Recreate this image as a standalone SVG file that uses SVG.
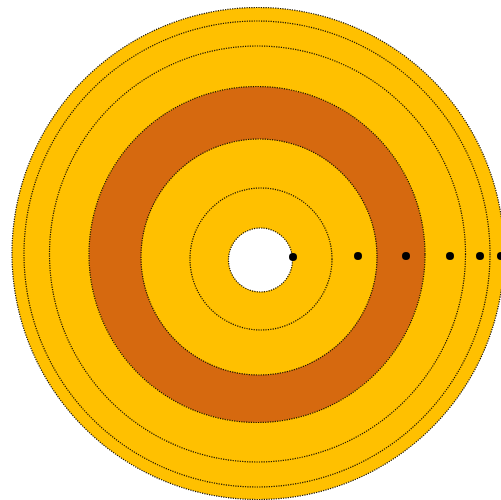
<svg xmlns="http://www.w3.org/2000/svg" width="501" height="500" viewBox="0 0 501 500">
  <style>
    .ring { stroke: #1a1200; stroke-width: 1.2; stroke-dasharray: 1.2 1.2; }
    .yel { fill: #FFC000; }
    .org { fill: #D6690F; }
    .hole { fill: #FFFFFF; }
    .dot { fill: #000000; }
  </style>
  <rect x="0" y="0" width="501" height="500" fill="#FFFFFF"/>
  <g id="rings">
    <circle class="ring yel" cx="258" cy="253.5" r="246"/>
    <circle class="ring yel" cx="257" cy="254" r="233"/>
    <circle class="ring yel" cx="257.5" cy="254" r="208"/>
    <circle class="ring org" cx="257" cy="254.5" r="168"/>
    <circle class="ring yel" cx="259" cy="257" r="118"/>
    <circle class="ring yel" cx="261" cy="259" r="71"/>
    <circle class="ring hole" cx="260.5" cy="260" r="32"/>
  </g>
  <g id="dots">
    <circle class="dot" cx="293" cy="257" r="4"/>
    <circle class="dot" cx="358" cy="256" r="4"/>
    <circle class="dot" cx="406" cy="256" r="4"/>
    <circle class="dot" cx="450" cy="256" r="4"/>
    <circle class="dot" cx="480" cy="256" r="4"/>
    <circle class="dot" cx="501" cy="256" r="4"/>
  </g>
</svg>
